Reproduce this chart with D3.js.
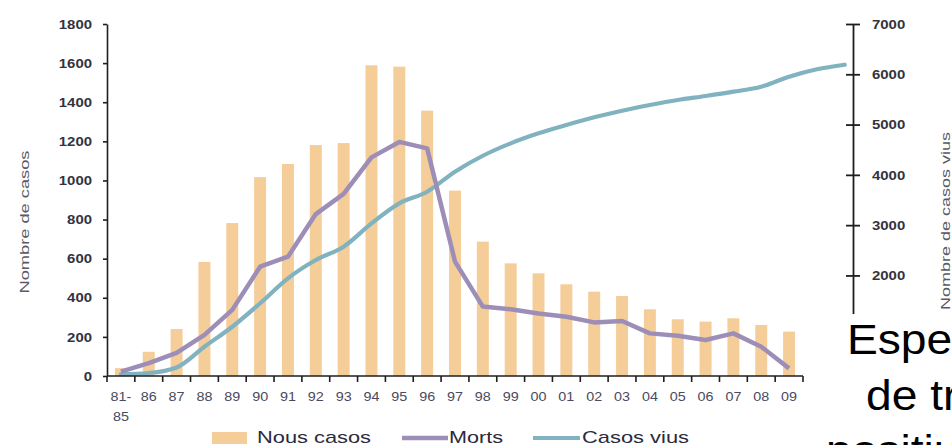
<!DOCTYPE html>
<html>
<head>
<meta charset="utf-8">
<script src="https://cdn.jsdelivr.net/npm/d3@7"></script>
<style>
  html, body { margin: 0; padding: 0; background: #fff; overflow: hidden; }
  text { font-family: "Liberation Sans", Arial, sans-serif; }
</style>
</head>
<body>
<svg id="chart" width="952" height="445"></svg>
<script>
// Years on the category axis
const years = ["81-85", "86", "87", "88", "89", "90", "91", "92", "93", "94", "95", "96",
  "97", "98", "99", "00", "01", "02", "03", "04", "05", "06", "07", "08", "09"];
// Living cases run on past the last labelled year
const yearsVius = years.concat(["10", "11"]);

// New cases per year (bars, left axis)
const nousCasos = [40, 124, 240, 583, 782, 1017, 1084, 1181, 1191, 1589, 1582, 1357,
  948, 687, 576, 525, 469, 431, 409, 341, 290, 278, 295, 261, 227];
// Deaths per year (line, left axis)
const morts = [22, 66, 118, 210, 338, 559, 610, 828, 931, 1118, 1197, 1164,
  585, 355, 341, 320, 303, 274, 281, 218, 206, 184, 218, 150, 39];
// Living cases (line, right axis)
const casosVius = [35, 60, 170, 583, 980, 1446, 1943, 2307, 2572, 3036, 3434, 3665,
  4063, 4380, 4627, 4826, 4991, 5144, 5276, 5389, 5489, 5568, 5654, 5753, 5952, 6100, 6190];

const leftTicks = [0, 200, 400, 600, 800, 1000, 1200, 1400, 1600, 1800];
const rightTicks = [1000, 2000, 3000, 4000, 5000, 6000, 7000];

const legendItems = ["Nous casos", "Morts", "Casos vius"];
const slideLines = ["Esperança", "de tractament", "positius"];

const C = {
  bar: "#F5CD98",
  morts: "#9D8EB8",
  vius: "#80B3BF",
  axis: "#1e1e1e",
  tick: "#333340",
  title: "#5a5a66"
};

const svg = d3.select("#chart");
const plot = { left: 107, right: 803, top: 24, bottom: 376 };

const x = d3.scaleBand().domain(years)
  .range([plot.left, plot.right])
  .paddingInner(0.57).paddingOuter(0.285);
const step = x.step();
const xLine = d3.scaleBand().domain(yearsVius)
  .range([plot.left, plot.left + step * yearsVius.length]);

const yL = d3.scaleLinear().domain([0, 1800]).range([plot.bottom, plot.top]);
const yR = d3.scaleLinear().domain([0, 7000]).range([plot.bottom, plot.top]);

const SX = 1.15; // chart labels are set in a widened face

// Bars
svg.append("g").selectAll("rect").data(nousCasos).join("rect")
  .attr("x", (d, i) => x(years[i]))
  .attr("width", x.bandwidth())
  .attr("y", d => yL(d))
  .attr("height", d => yL(0) - yL(d))
  .attr("fill", C.bar);

// Lines
const lineL = d3.line()
  .x((d, i) => xLine(yearsVius[i]) + xLine.bandwidth() / 2)
  .y(d => yL(d));
const lineR = d3.line()
  .x((d, i) => xLine(yearsVius[i]) + xLine.bandwidth() / 2)
  .y(d => yR(d))
  .curve(d3.curveMonotoneX);

svg.append("path").datum(casosVius)
  .attr("d", lineR).attr("fill", "none")
  .attr("stroke", C.vius).attr("stroke-width", 4.2)
  .attr("stroke-linejoin", "round").attr("stroke-linecap", "round");

svg.append("path").datum(morts)
  .attr("d", lineL).attr("fill", "none")
  .attr("stroke", C.morts).attr("stroke-width", 4.5)
  .attr("stroke-linejoin", "round").attr("stroke-linecap", "butt");

// Left axis
const gL = svg.append("g").attr("transform", `translate(${plot.left},0)`)
  .call(d3.axisLeft(yL).tickValues(leftTicks).tickSize(4).tickSizeOuter(0).tickFormat(d3.format("d")));
gL.select(".domain").attr("stroke", C.axis).attr("stroke-width", 1.6);
gL.selectAll(".tick line").attr("stroke", C.axis).attr("stroke-width", 1.6);
gL.selectAll(".tick text")
  .attr("x", -15 / SX)
  .attr("transform", `scale(${SX},1)`)
  .attr("fill", C.tick).attr("font-size", 13).attr("font-weight", "bold");

// Right axis
const gR = svg.append("g").attr("transform", `translate(853,0)`)
  .call(d3.axisRight(yR).tickValues(rightTicks).tickSize(7).tickSizeOuter(0).tickFormat(d3.format("d")));
gR.select(".domain").attr("stroke", C.axis).attr("stroke-width", 1.8);
gR.selectAll(".tick line").attr("x1", -7).attr("x2", 7).attr("stroke", C.axis).attr("stroke-width", 1.8);
gR.selectAll(".tick text")
  .attr("x", 19 / SX)
  .attr("transform", `scale(${SX},1)`)
  .attr("fill", C.tick).attr("font-size", 13).attr("font-weight", "bold");

// Category axis
const gX = svg.append("g");
gX.append("line")
  .attr("x1", x.range()[0]).attr("x2", x.range()[1])
  .attr("y1", yL(0)).attr("y2", yL(0))
  .attr("stroke", C.axis).attr("stroke-width", 1.6);
const bounds = years.map(y => x(y) - (step - x.bandwidth()) / 2).concat([x.range()[1]]);
gX.selectAll("line.tk").data(bounds).join("line").attr("class", "tk")
  .attr("x1", d => d).attr("x2", d => d)
  .attr("y1", yL(0)).attr("y2", yL(0) + 6)
  .attr("stroke", C.axis).attr("stroke-width", 1.6);
const xl = gX.selectAll("text").data(years).join("text")
  .attr("transform", d => `translate(${x(d) + x.bandwidth() / 2},${yL(0) + 25}) scale(${SX},1)`)
  .attr("text-anchor", "middle")
  .attr("fill", "#4a4a60").attr("font-size", 12.5);
xl.each(function(d) {
  const parts = d.includes("-") ? [d.split("-")[0] + "-", d.split("-")[1]] : [d];
  d3.select(this).selectAll("tspan").data(parts).join("tspan")
    .attr("x", 0).attr("dy", (p, i) => i === 0 ? 0 : 20).text(p => p);
});

// Axis titles
svg.append("text")
  .attr("transform", `translate(29,222) rotate(-90)`)
  .attr("text-anchor", "middle").attr("font-size", 12.5)
  .attr("textLength", 143).attr("lengthAdjust", "spacingAndGlyphs")
  .attr("fill", C.title).text("Nombre de casos");

svg.append("text")
  .attr("transform", `translate(950,221) rotate(-90)`)
  .attr("text-anchor", "middle").attr("font-size", 12.5)
  .attr("textLength", 178).attr("lengthAdjust", "spacingAndGlyphs")
  .attr("fill", C.title).text("Nombre de casos vius");

// Slide text box laid over the lower right of the chart
svg.append("rect").attr("x", 815).attr("y", 314).attr("width", 137).attr("height", 131).attr("fill", "#fff");
const slideX = [847, 866, 826];
const slideY = [354, 410, 465];
svg.append("g").selectAll("text").data(slideLines).join("text")
  .attr("x", (d, i) => slideX[i]).attr("y", (d, i) => slideY[i])
  .attr("font-size", 42).attr("fill", "#000")
  .attr("transform-origin", (d, i) => `${slideX[i]} ${slideY[i]}`)
  .attr("transform", "scale(1.1,1)")
  .text(d => d);

// Legend
const lg = svg.append("g");
const legendText = [
  { x: 257, w: 114 },
  { x: 449, w: 54 },
  { x: 582, w: 107 }
];
lg.append("rect").attr("x", 212).attr("y", 432).attr("width", 35).attr("height", 12).attr("fill", C.bar);
lg.append("line").attr("x1", 402).attr("x2", 448).attr("y1", 438).attr("y2", 438)
  .attr("stroke", C.morts).attr("stroke-width", 4.5);
lg.append("line").attr("x1", 533).attr("x2", 580).attr("y1", 438).attr("y2", 438)
  .attr("stroke", C.vius).attr("stroke-width", 4.2);
lg.selectAll("text").data(legendItems).join("text")
  .attr("x", (d, i) => legendText[i].x).attr("y", 443)
  .attr("textLength", (d, i) => legendText[i].w).attr("lengthAdjust", "spacingAndGlyphs")
  .attr("font-size", 17).attr("fill", "#2a2a3c")
  .text(d => d);
</script>
</body>
</html>
